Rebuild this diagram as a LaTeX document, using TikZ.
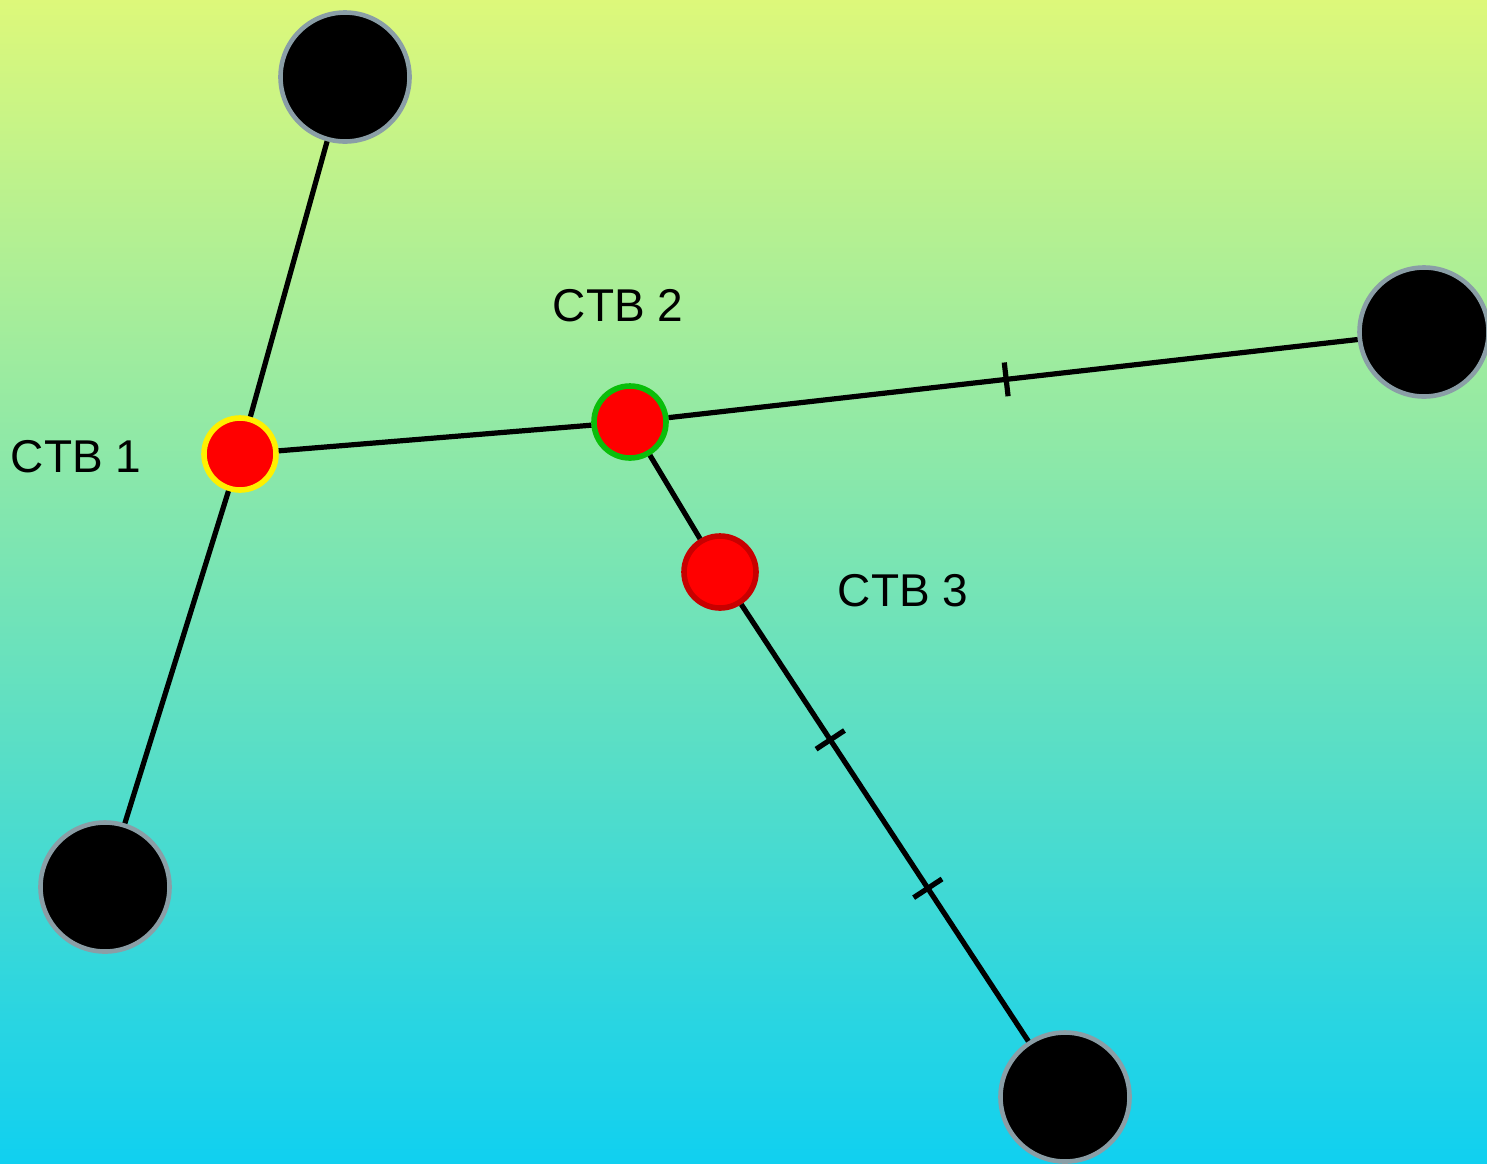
\documentclass[tikz,border=0pt]{standalone}
\usepackage{fontspec}
\setmainfont{Liberation Sans}
\usetikzlibrary{decorations.markings}

\definecolor{ustRenk}{RGB}{221,248,122}
\definecolor{altRenk}{RGB}{16,208,240}
\definecolor{kenarGri}{RGB}{138,158,166}
\definecolor{sariKenar}{RGB}{255,240,0}
\definecolor{yesilKenar}{RGB}{10,190,10}
\definecolor{koyuKirmizi}{RGB}{200,0,0}

\begin{document}
\begin{tikzpicture}[x=0.5pt, y=-0.5pt,
  uc/.style={circle, fill=black, draw=kenarGri, line width=2.3pt, minimum size=64.5pt, inner sep=0pt},
  ctb/.style={circle, fill=red, line width=2.8pt, minimum size=36pt, inner sep=0pt},
  kol/.style={line width=2.6pt},
  etiket/.style={font=\fontsize{23}{28}\selectfont, anchor=base}]
  \def\cizgi{\draw[line width=2.6pt] (0,-8.5pt) -- (0,8.5pt);}

  % --- arka plan ---
  \shade[top color=ustRenk, bottom color=altRenk] (0,0) rectangle (1487,1163);
  \useasboundingbox (0,0) rectangle (1487,1163);

  % ---- uc dugumler ----
  \node[uc] (ust) at (345,77) {};
  \node[uc] (sag) at (1424,332) {};
  \node[uc] (solalt) at (105,887) {};
  \node[uc] (alt) at (1065,1097) {};

  % ---- kutular ----
  \node[ctb, draw=sariKenar] (ctb1) at (240,454) {};
  \node[ctb, draw=yesilKenar] (ctb2) at (630,422) {};
  \node[ctb, draw=koyuKirmizi] (ctb3) at (720,572) {};

  % ---- kollar ----
  \draw[kol] (ust) -- (ctb1);
  \draw[kol] (ctb1) -- (solalt);
  \draw[kol] (ctb1) -- (ctb2);
  \draw[kol, postaction={decorate},
    decoration={markings, mark=at position 0.49 with {\cizgi}}] (ctb2) -- (sag);
  \draw[kol] (ctb2) -- (ctb3);
  \draw[kol, postaction={decorate},
    decoration={markings, mark=at position 0.31 with {\cizgi},
      mark=at position 0.65 with {\cizgi}}] (ctb3) -- (alt);

  % ---- etiketler ----
  \node[etiket] (e1) at (76,472) {CTB 1};
  \node[etiket] (e2) at (618,321) {CTB 2};
  \node[etiket] (e3) at (903,606) {CTB 3};
\end{tikzpicture}
\end{document}
